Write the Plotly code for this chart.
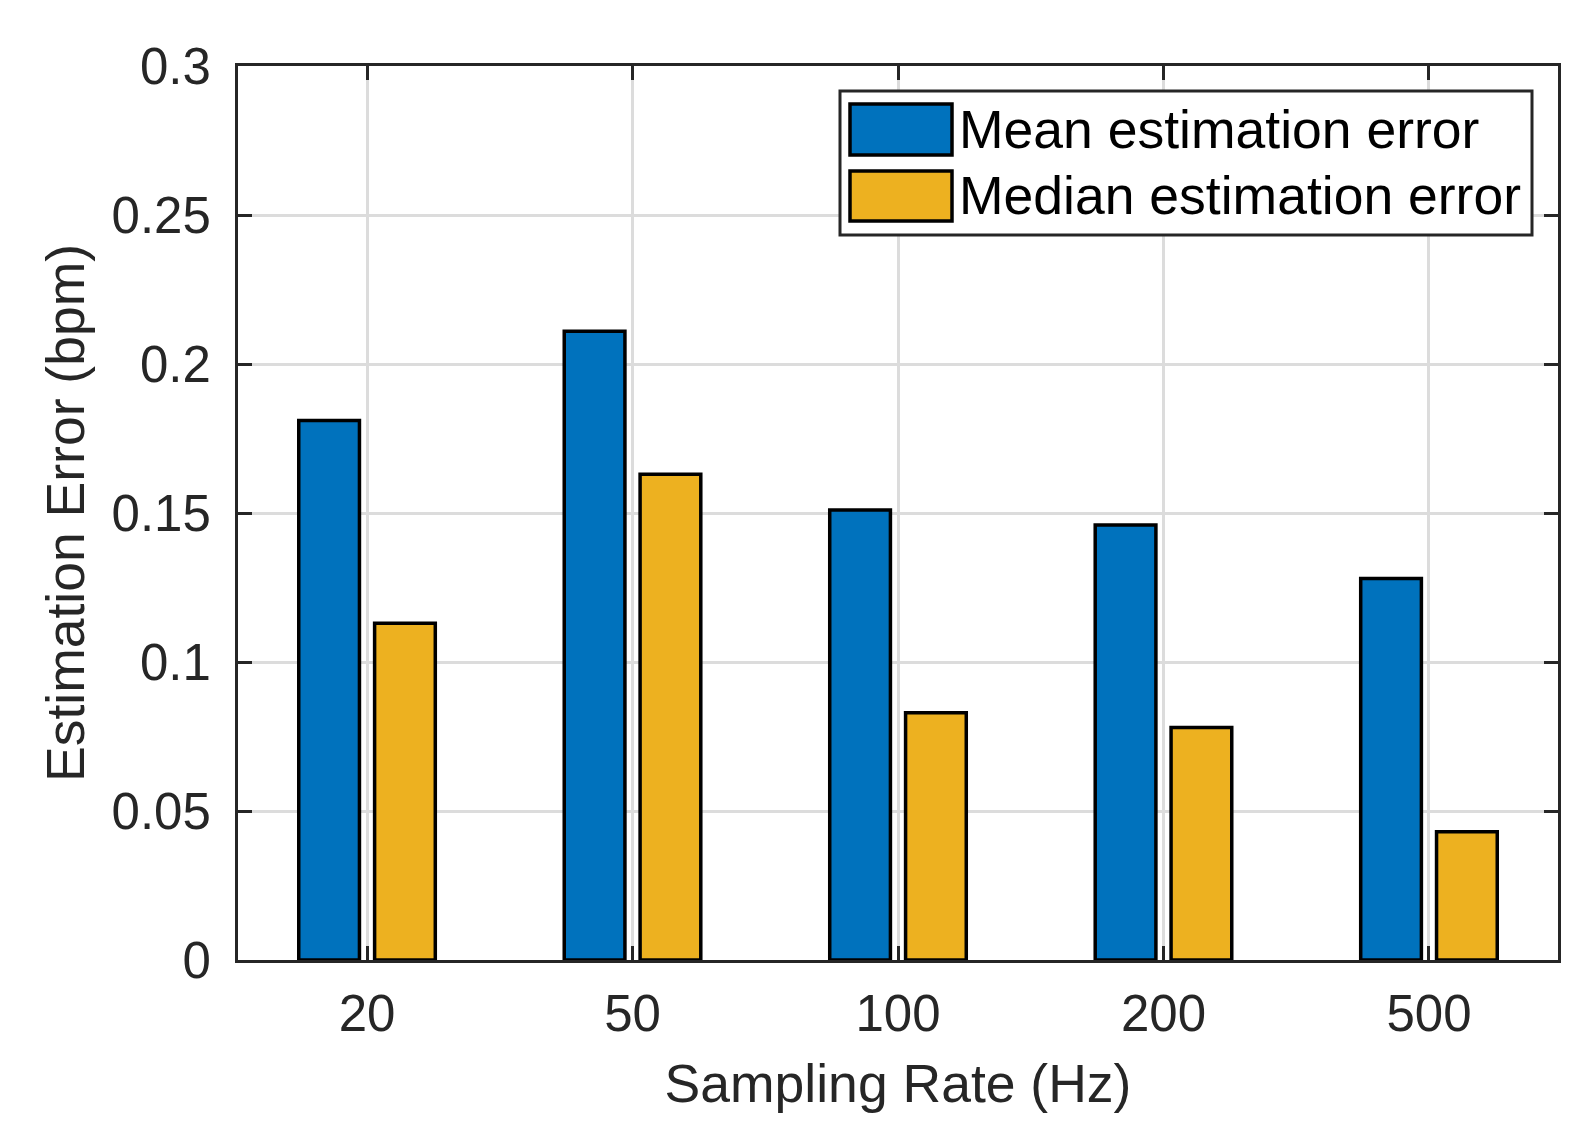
import plotly.graph_objects as go

# ---- data ----
categories = ["20", "50", "100", "200", "500"]
mean_err = [0.181, 0.211, 0.151, 0.146, 0.128]
median_err = [0.113, 0.163, 0.083, 0.078, 0.043]
series_names = ["Mean estimation error", "Median estimation error"]
y_tickvals = [0, 0.05, 0.1, 0.15, 0.2, 0.25, 0.3]
y_ticktext = ["0", "0.05", "0.1", "0.15", "0.2", "0.25", "0.3"]
x_label = "Sampling Rate (Hz)"
y_label = "Estimation Error (bpm)"

# ---- style ----
W, H = 1591, 1133
L, R, T, B = 230, 1550, 58, 952  # plot area in pixels
colors = ["#0072BD", "#EDB120"]
FONT = "Liberation Sans, Arial, sans-serif"
INK = "#262626"
GRID = "#dcdcdc"


def px_x(p):
    return (p - L) / (R - L)


def px_y(p):
    return (B - p) / (B - T)


fig = go.Figure()
bar_w = 0.2286
centers = [-0.142857, 0.142857]
for name, vals, c, ctr in zip(series_names, [mean_err, median_err], colors, centers):
    fig.add_trace(go.Bar(
        x=categories, y=vals, name=name,
        marker=dict(color=c, line=dict(color="black", width=3.5)),
        width=bar_w, offset=ctr - bar_w / 2, showlegend=False,
    ))

axis_common = dict(
    showline=True, linewidth=3, linecolor=INK, mirror="ticks",
    ticks="inside", ticklen=14, tickwidth=3, tickcolor=INK,
    showgrid=True, gridcolor=GRID, gridwidth=2.5, zeroline=False,
    tickfont=dict(family=FONT, size=51, color=INK),
)

fig.update_xaxes(
    type="category", range=[-0.486, 4.486],
    title=dict(text=x_label, font=dict(family=FONT, size=53.5, color=INK), standoff=24),
    ticklabelstandoff=7,
    **axis_common,
)
fig.update_yaxes(
    range=[0, 0.3], tickvals=y_tickvals, ticktext=y_ticktext,
    title=dict(text=y_label, font=dict(family=FONT, size=53.5, color=INK), standoff=10),
    ticklabelstandoff=14,
    **axis_common,
)

# ---- legend (MATLAB-style, large swatches) ----
shapes = [dict(type="rect", xref="paper", yref="paper",
               x0=px_x(832), x1=px_x(1524), y0=px_y(227), y1=px_y(83),
               line=dict(color=INK, width=3), fillcolor="white", layer="above")]
annotations = []
rows = [(96, 147), (163, 213)]
for (top, bot), name, c in zip(rows, series_names, colors):
    shapes.append(dict(type="rect", xref="paper", yref="paper",
                       x0=px_x(842), x1=px_x(944), y0=px_y(bot), y1=px_y(top),
                       line=dict(color="black", width=3.5), fillcolor=c, layer="above"))
    annotations.append(dict(xref="paper", yref="paper", x=px_x(949), y=px_y((top + bot) / 2),
                            xanchor="left", yanchor="middle", showarrow=False, text=name,
                            font=dict(family=FONT, size=53.5, color="black")))

fig.update_layout(
    width=W, height=H,
    margin=dict(l=L, r=W - R, t=T, b=H - B),
    barmode="overlay",
    plot_bgcolor="white", paper_bgcolor="white",
    font=dict(family=FONT, color=INK),
    shapes=shapes, annotations=annotations,
    showlegend=False,
)

fig.write_html("out.html")
